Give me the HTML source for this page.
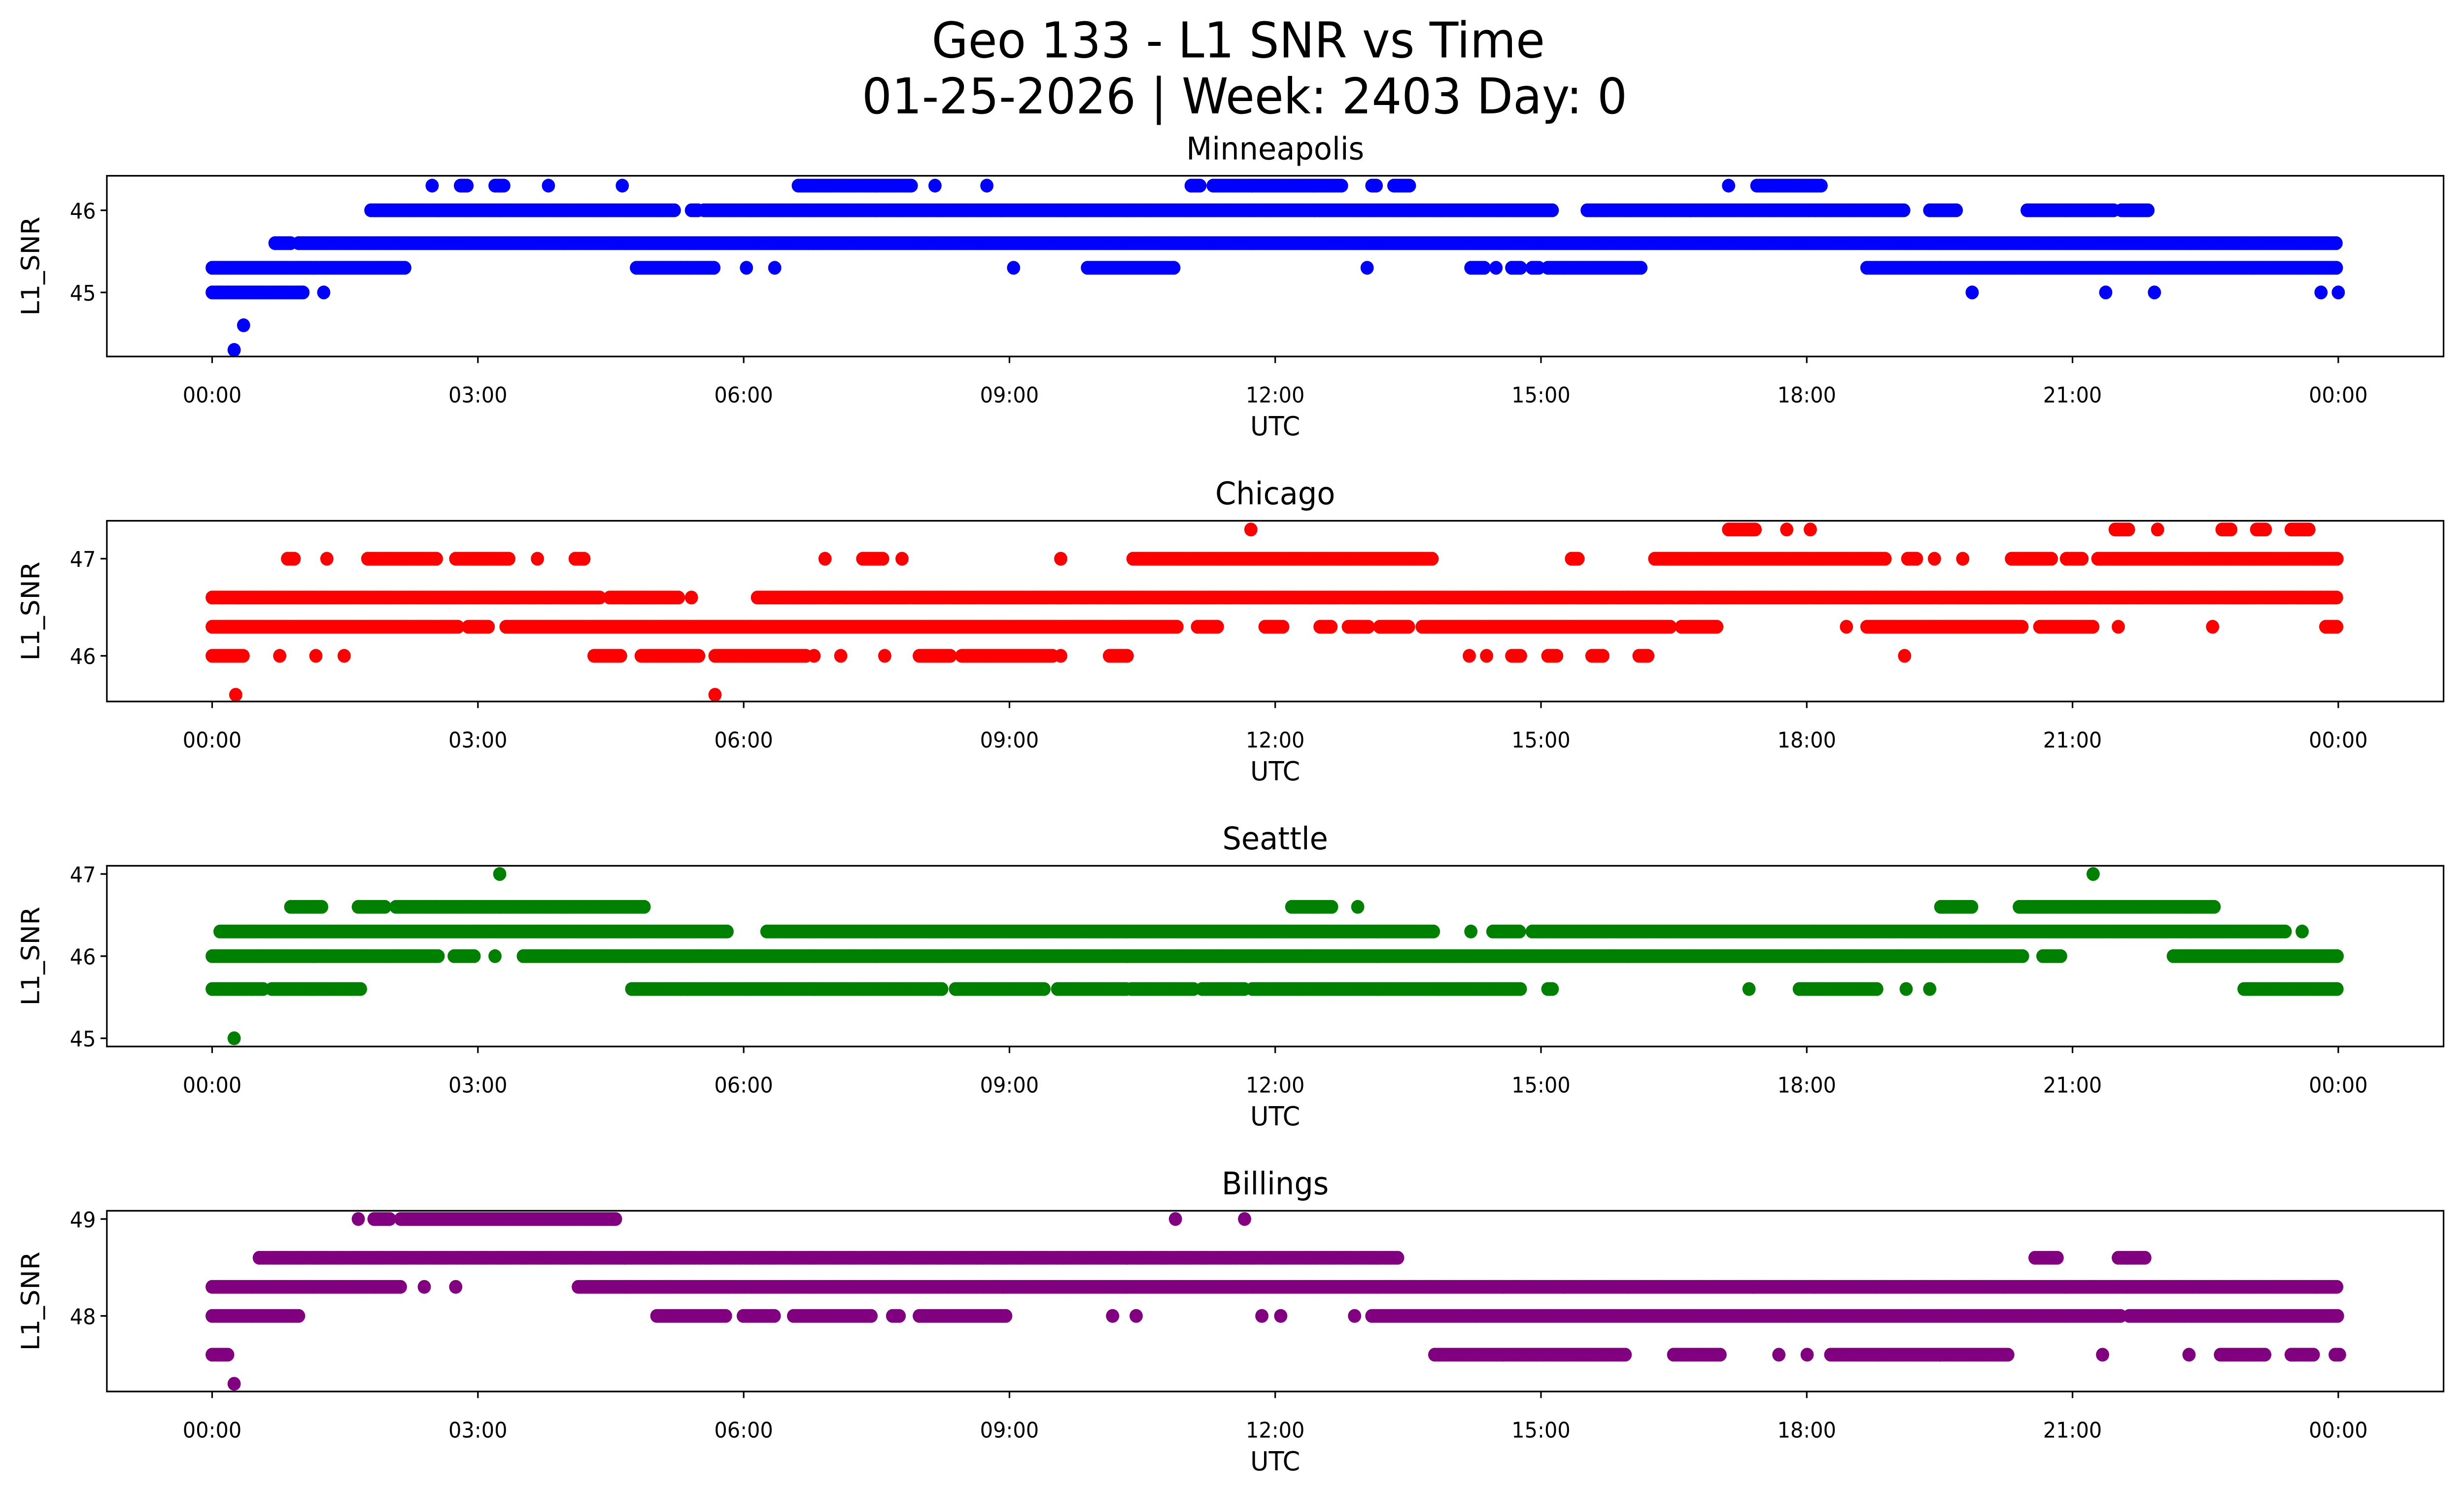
<!DOCTYPE html>
<html><head><meta charset="utf-8"><title>Geo 133 - L1 SNR vs Time</title>
<style>html,body{margin:0;padding:0;background:#fff;width:100%;height:100%;overflow:hidden}svg{display:block;position:fixed;left:0;top:0;width:100vw;height:100vh}text{font-family:"DejaVu Sans","Liberation Sans",sans-serif;fill:#000}</style>
</head><body>
<svg id="chart" xmlns="http://www.w3.org/2000/svg" viewBox="0 0 1568 910" preserveAspectRatio="none">
<rect x="0" y="0" width="1568" height="910" fill="#fff"/>
<text x="788" y="35" font-size="30" text-anchor="middle">Geo 133 - L1 SNR vs Time</text>
<text x="792" y="69" font-size="30" text-anchor="middle">01-25-2026 | Week: 2403 Day: 0</text>
</svg>
<script>
const xTickLabels = ["00:00","03:00","06:00","09:00","12:00","15:00","18:00","21:00","00:00"];
const panelNames = ["Minneapolis","Chicago","Seattle","Billings"];
const panelColors = ["#0000ff","#ff0000","#008000","#800080"];
const panelYTicks = [[45,46],[46,47],[45,46,47],[48,49]];
const panelYLims = [[44.22,46.42],[45.53,47.39],[44.9,47.1],[47.22,49.085]];
function px(x){return (x-135)/56.375;}
function R(a,b,v){return [px(a),px(b),v];}
const minneapolisRuns = [
 R(135,258,45.3),R(405,455,45.3),R(475,475,45.3),R(493,493,45.3),R(645,645,45.3),R(692,748,45.3),R(870,870,45.3),R(936,945,45.3),R(952,952,45.3),R(962,968,45.3),R(975,980,45.3),R(985,1045,45.3),R(1188,1488,45.3),
 R(135,193,45.0),R(206,206,45.0),R(1255,1255,45.0),R(1340,1340,45.0),R(1371,1371,45.0),R(1477,1477,45.0),R(1488,1488,45.0),
 R(155,155,44.6),R(149,149,44.3),
 R(175,185,45.6),R(190,1488,45.6),
 R(236,430,46.0),R(440,445,46.0),R(448,988,46.0),R(1010,1212,46.0),R(1228,1245,46.0),R(1290,1345,46.0),R(1350,1368,46.0),
 R(275,275,46.3),R(293,298,46.3),R(315,322,46.3),R(349,349,46.3),R(396,396,46.3),R(508,580,46.3),R(595,595,46.3),R(628,628,46.3),R(758,765,46.3),R(772,855,46.3),R(873,877,46.3),R(887,897,46.3),R(1100,1100,46.3),R(1118,1160,46.3)
];
const chicagoRuns = [
 R(135,382,46.6),R(388,432,46.6),R(440,440,46.6),R(482,1488,46.6),
 R(135,292,46.3),R(298,312,46.3),R(322,750,46.3),R(762,775,46.3),R(805,817,46.3),R(840,848,46.3),R(858,872,46.3),R(878,897,46.3),R(905,1063,46.3),R(1070,1093,46.3),R(1175,1175,46.3),R(1188,1287,46.3),R(1298,1333,46.3),R(1348,1348,46.3),R(1408,1408,46.3),R(1480,1488,46.3),
 R(135,155,46.0),R(178,178,46.0),R(201,201,46.0),R(219,219,46.0),R(378,395,46.0),R(408,445,46.0),R(455,513,46.0),R(518,518,46.0),R(535,535,46.0),R(563,563,46.0),R(585,605,46.0),R(612,670,46.0),R(675,675,46.0),R(706,718,46.0),R(935,935,46.0),R(946,946,46.0),R(962,968,46.0),R(985,992,46.0),R(1013,1021,46.0),R(1043,1050,46.0),R(1212,1212,46.0),
 R(150,150,45.6),R(455,455,45.6),
 R(183,188,47.0),R(208,208,47.0),R(234,278,47.0),R(290,324,47.0),R(342,342,47.0),R(366,372,47.0),R(525,525,47.0),R(549,562,47.0),R(574,574,47.0),R(675,675,47.0),R(721,912,47.0),R(1000,1005,47.0),R(1053,1200,47.0),R(1214,1220,47.0),R(1231,1231,47.0),R(1249,1249,47.0),R(1280,1306,47.0),R(1315,1325,47.0),R(1335,1488,47.0),
 R(796,796,47.3),R(1100,1118,47.3),R(1137,1137,47.3),R(1152,1152,47.3),R(1346,1355,47.3),R(1373,1373,47.3),R(1414,1420,47.3),R(1436,1443,47.3),R(1458,1470,47.3)
];
const seattleRuns = [
 R(135,280,46.0),R(289,302,46.0),R(315,315,46.0),R(333,1288,46.0),R(1300,1312,46.0),R(1383,1488,46.0),
 R(140,463,46.3),R(488,913,46.3),R(936,936,46.3),R(950,968,46.3),R(975,1455,46.3),R(1465,1465,46.3),
 R(185,205,46.6),R(228,245,46.6),R(252,410,46.6),R(822,848,46.6),R(864,864,46.6),R(1235,1255,46.6),R(1285,1410,46.6),
 R(135,168,45.6),R(173,230,45.6),R(402,600,45.6),R(608,665,45.6),R(673,717,45.6),R(720,760,45.6),R(765,792,45.6),R(797,968,45.6),R(985,988,45.6),R(1113,1113,45.6),R(1145,1195,45.6),R(1213,1213,45.6),R(1228,1228,45.6),R(1428,1488,45.6),
 R(318,318,47.0),R(1332,1332,47.0),R(149,149,45.0)
];
const billingsRuns = [
 R(135,255,48.3),R(270,270,48.3),R(290,290,48.3),R(368,1488,48.3),
 R(135,190,48.0),R(418,462,48.0),R(473,493,48.0),R(505,555,48.0),R(568,573,48.0),R(585,640,48.0),R(708,708,48.0),R(723,723,48.0),R(803,803,48.0),R(815,815,48.0),R(862,862,48.0),R(873,1350,48.0),R(1355,1488,48.0),
 R(135,145,47.6),R(913,1035,47.6),R(1065,1095,47.6),R(1132,1132,47.6),R(1150,1150,47.6),R(1165,1278,47.6),R(1338,1338,47.6),R(1393,1393,47.6),R(1413,1442,47.6),R(1458,1473,47.6),R(1486,1490,47.6),
 R(149,149,47.3),
 R(165,890,48.6),R(1295,1310,48.6),R(1348,1365,48.6),
 R(228,228,49.0),R(238,248,49.0),R(255,392,49.0),R(748,748,49.0),R(792,792,49.0)
];
const allRuns = [minneapolisRuns, chicagoRuns, seattleRuns, billingsRuns];

const NS="http://www.w3.org/2000/svg";
const svg=document.getElementById('chart');
const X0=68,X1=1555,T0=135,T1=1488;
const panelTops=[107,317,527,737], PH=110;
function mk(tag,attrs,parent){const e=document.createElementNS(NS,tag);for(const k in attrs)e.setAttribute(k,attrs[k]);(parent||svg).appendChild(e);return e;}
function xScale(h){return T0+(h/24)*(T1-T0);}
for(let p=0;p<4;p++){
  const top=panelTops[p],bot=top+PH,[lo,hi]=panelYLims[p];
  const yScale=v=>bot-(v-lo)/(hi-lo)*PH;
  const g=mk('g',{});
  
  
  const t=mk('text',{x:(X0+X1)/2,y:top-10,'font-size':19,'text-anchor':'middle'},g);
  t.textContent=panelNames[p];
  
  
  const pts=mk('g',{fill:panelColors[p]},g);
  
  
  allRuns[p].forEach(r=>{
    const y=yScale(r[2]);
    for(let h=r[0];h<=r[1]+1e-6;h+=0.025){
      mk('circle',{cx:xScale(h).toFixed(1),cy:y.toFixed(1),r:4.2},pts);
    }
  });
  const frame=mk('rect',{x:X0,y:top,width:X1-X0,height:PH,fill:'none',stroke:'#000','stroke-width':1},g);
  
  
  xTickLabels.forEach((lab,i)=>{
    const x=xScale(i*3);
    mk('line',{x1:x,x2:x,y1:bot,y2:bot+4,stroke:'#000'},g);
    const tl=mk('text',{x:x,y:bot+28,'font-size':13,'text-anchor':'middle'},g);
    tl.textContent=lab;
    
    
  });
  panelYTicks[p].forEach(v=>{
    const y=yScale(v);
    mk('line',{x1:X0-4,x2:X0,y1:y,y2:y,stroke:'#000'},g);
    const tl=mk('text',{x:X0-7,y:y+5,'font-size':13,'text-anchor':'end'},g);
    tl.textContent=v;
    
    
  });
  const xl=mk('text',{x:(X0+X1)/2,y:bot+48,'font-size':16,'text-anchor':'middle'},g);
  xl.textContent='UTC';
  
  
  const yl=mk('text',{x:0,y:0,'font-size':16,'text-anchor':'middle',transform:`translate(25,${top+PH/2}) rotate(-90)`},g);
  yl.textContent='L1_SNR';
  
  
}
</script>
</body></html>
